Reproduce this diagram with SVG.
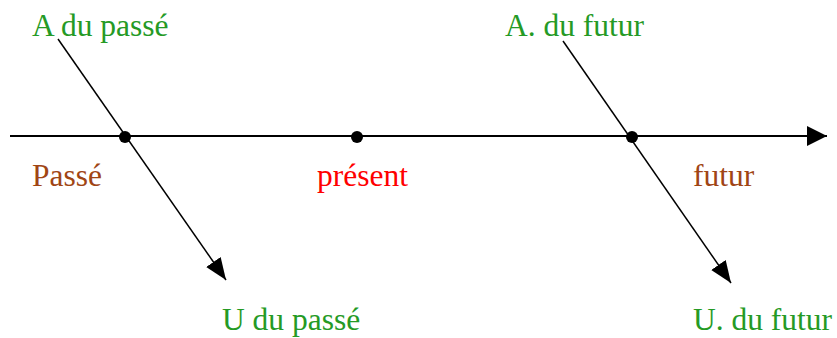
<svg xmlns="http://www.w3.org/2000/svg" width="837" height="338" viewBox="0 0 837 338">
<style>
text{font-family:"Liberation Serif","Times New Roman",serif;font-size:31.5px}
.g{fill:#259a25}
.b{fill:#a04514}
.r{fill:#ff0000}
.ln{stroke:#000;fill:none}
</style>
<defs>
<marker id="ah" viewBox="0 0 20 20" refX="20" refY="10" markerWidth="20" markerHeight="20" markerUnits="userSpaceOnUse" orient="auto">
<path d="M0,0 L20,10 L0,20 Z" fill="#000"/>
</marker>
<marker id="ah2" viewBox="0 0 20 20" refX="20" refY="10" markerWidth="22" markerHeight="22" markerUnits="userSpaceOnUse" orient="auto">
<path d="M0,2 L20,10 L0,18 Z" fill="#000"/>
</marker>
</defs>
<rect width="837" height="338" fill="#fff"/>
<g id="connectors">
<line class="ln" x1="10" y1="136" x2="827" y2="136" stroke-width="2" marker-end="url(#ah)"/>
<line class="ln" x1="58" y1="39" x2="226" y2="280" stroke-width="1.5" marker-end="url(#ah2)"/>
<line class="ln" x1="563" y1="41" x2="731" y2="283" stroke-width="1.5" marker-end="url(#ah2)"/>
</g>
<g id="passe-point"><circle cx="125" cy="137" r="6"/><text class="b" x="32" y="186">Passé</text></g>
<g id="present"><circle cx="357" cy="137" r="6"/><text class="r" x="317" y="186">présent</text></g>
<g id="futur-point"><circle cx="632" cy="137" r="6"/><text class="b" x="693" y="186">futur</text></g>
<g id="a-passe"><text class="g" x="32" y="36">A du passé</text></g>
<g id="a-futur"><text class="g" x="505" y="36">A. du futur</text></g>
<g id="u-passe"><text class="g" x="222" y="330">U du passé</text></g>
<g id="u-futur"><text class="g" x="693" y="330">U. du futur</text></g>
</svg>
